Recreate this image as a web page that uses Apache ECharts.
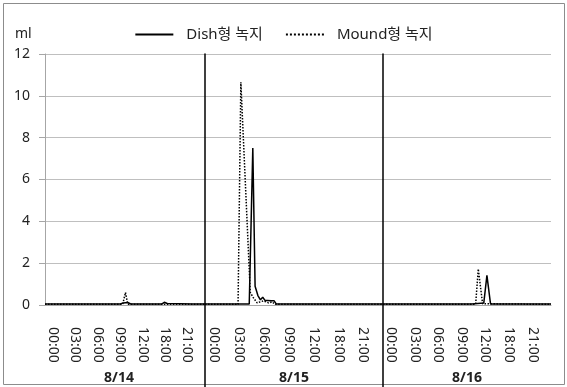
<!DOCTYPE html>
<html>
<head>
<meta charset="utf-8">
<script src="https://cdn.jsdelivr.net/npm/echarts@6/dist/echarts.min.js"></script>
<style>
html, body { margin: 0; padding: 0; background: #fff; }
#container { width: 567px; height: 387px; }
</style>
</head>
<body>
<div id="container"></div>
<script>
var dom = document.getElementById('container');
var myChart = echarts.init(dom);

var days = ['8/14', '8/15', '8/16'];
var hourLabels = ['00:00', '03:00', '06:00', '09:00', '12:00', '18:00', '21:00'];
// where each hour label sits inside a day (x unit = one label slot, a day = 7 slots)
var labelSlots = [0.35, 1.33, 2.31, 3.29, 4.27, 5.25, 6.23];

// Dish형 녹지 (ml), one x/y pair of arrays per day
var dishX = [
    [0, 3.3, 3.42, 3.5, 3.62, 3.75, 5.12, 5.22, 5.35, 6.42, 6.48, 6.55, 7],
    [0, 1.74, 1.88, 1.97, 2.08, 2.18, 2.27, 2.36, 2.45, 2.6, 2.72, 2.8, 7],
    [0, 3.7, 4.2, 4.33, 4.48, 7]
];
var dishY = [
    [0.05, 0.05, 0.1, 0.16, 0.12, 0.05, 0.05, 0.13, 0.07, 0.05, 0.09, 0.05, 0.05],
    [0.05, 0.05, 7.5, 0.9, 0.45, 0.25, 0.37, 0.22, 0.22, 0.2, 0.2, 0.05, 0.05],
    [0.05, 0.05, 0.1, 1.42, 0.05, 0.05]
];

// Mound형 녹지 (ml)
var moundX = [
    [0, 3.4, 3.52, 3.62, 7],
    [0, 1.3, 1.41, 1.78, 1.9, 2.05, 2.3, 2.5, 2.64, 2.76, 7],
    [0, 3.86, 3.97, 4.15, 7]
];
var moundY = [
    [0.03, 0.03, 0.6, 0.04, 0.03],
    [0.03, 0.03, 10.65, 0.6, 0.35, 0.1, 0.2, 0.1, 0.15, 0.03, 0.03],
    [0.03, 0.03, 1.72, 0.06, 0.03]
];

var gridLeft = [45, 205, 383];
var gridWidth = [160, 178, 168];
var textColor = '#222';
var fontFamily = "'Noto Sans', 'Noto Sans CJK KR', sans-serif";

function pairUp(xs, ys) {
    return xs.map(function (x, j) { return [x, ys[j]]; });
}

function hourLabel(v) {
    var k = 0;
    for (var i = 1; i < labelSlots.length; i++) {
        if (Math.abs(labelSlots[i] - v) < Math.abs(labelSlots[k] - v)) k = i;
    }
    return hourLabels[k];
}

var grids = [], xAxes = [], yAxes = [], series = [];
days.forEach(function (day, i) {
    grids.push({ left: gridLeft[i], width: gridWidth[i], top: 54, bottom: 82, outerBoundsMode: 'none' });
    xAxes.push({
        type: 'value',
        gridIndex: i,
        min: 0,
        max: 7,
        name: day,
        nameLocation: 'middle',
        nameGap: 65,
        nameTextStyle: {
            fontSize: 14, fontWeight: 'bold', color: textColor, fontFamily: fontFamily,
            padding: i === 0 ? [0, 12, 0, 0] : 0
        },
        axisLine: { show: true, onZero: false, lineStyle: { color: '#a6a6a6', width: 1 } },
        axisTick: i === 0 ? { show: false } : {
            show: true, customValues: [0], length: 82, lineStyle: { color: '#000', width: 1.5 }
        },
        axisLabel: {
            customValues: labelSlots,
            rotate: -90,
            margin: 22,
            fontSize: 14,
            color: textColor,
            fontFamily: fontFamily,
            formatter: hourLabel
        },
        splitLine: { show: false }
    });
    yAxes.push({
        type: 'value',
        gridIndex: i,
        min: 0,
        max: 12,
        interval: 2,
        axisLine: {
            show: true,
            lineStyle: i === 0 ? { color: '#a6a6a6', width: 1 } : { color: '#000', width: 1.5 }
        },
        axisTick: { show: i === 0, length: 6, lineStyle: { color: '#a6a6a6' } },
        axisLabel: { show: i === 0, margin: 15, fontSize: 14, color: textColor, fontFamily: fontFamily },
        splitLine: { show: true, lineStyle: { color: '#bfbfbf', width: 1 } }
    });
    series.push({
        name: 'Dish형 녹지',
        type: 'line',
        xAxisIndex: i,
        yAxisIndex: i,
        symbol: 'none',
        lineStyle: { color: '#000', width: 1.5, type: 'solid' },
        itemStyle: { color: '#000' },
        data: pairUp(dishX[i], dishY[i])
    });
    series.push({
        name: 'Mound형 녹지',
        type: 'line',
        xAxisIndex: i,
        yAxisIndex: i,
        symbol: 'none',
        lineStyle: { color: '#000', width: 1.5, type: 'dotted' },
        itemStyle: { color: '#000' },
        data: pairUp(moundX[i], moundY[i])
    });
});

option = {
    backgroundColor: '#fff',
    animation: false,
    textStyle: { fontFamily: fontFamily },
    title: {
        text: 'ml',
        left: 10,
        top: 22,
        textStyle: { fontSize: 14, fontWeight: 'normal', color: textColor, fontFamily: fontFamily }
    },
    legend: {
        top: 22,
        left: 'center',
        itemWidth: 38,
        itemHeight: 14,
        itemGap: 22,
        itemStyle: { opacity: 0 },
        data: ['Dish형 녹지', 'Mound형 녹지'],
        textStyle: { fontSize: 15, color: textColor, fontFamily: fontFamily, padding: [0, 0, 0, 8] }
    },
    graphic: [{
        type: 'rect',
        silent: true,
        shape: { x: 3.5, y: 3.5, width: 561, height: 381 },
        style: { fill: 'none', stroke: '#8c8c8c', lineWidth: 1 }
    }],
    grid: grids,
    xAxis: xAxes,
    yAxis: yAxes,
    series: series
};

if (option && typeof option === 'object') {
    myChart.setOption(option, true);
}
</script>
</body>
</html>
